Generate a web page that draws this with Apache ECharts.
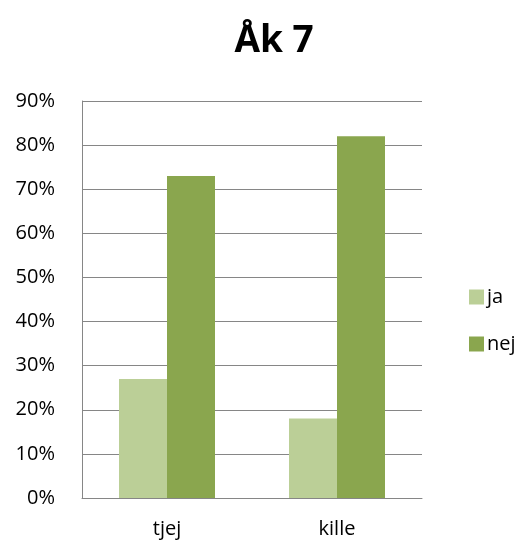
<!DOCTYPE html>
<html>
<head>
<meta charset="utf-8">
<script src="https://cdn.jsdelivr.net/npm/echarts@6/dist/echarts.min.js"></script>
<style>
html,body{margin:0;padding:0;background:#fff;}
#chart{width:522px;height:545px;}
</style>
</head>
<body>
<div id="chart"></div>
<script>
// Survey answers, year 7, split by girls/boys (share of respondents, %)
const categories = ['tjej', 'kille'];
const jaValues = [27, 18];
const nejValues = [73, 82];
const seriesNames = ['ja', 'nej'];
const titleText = 'Åk 7';

const font = '"Open Sans", "Noto Sans", sans-serif';
const chart = echarts.init(document.getElementById('chart'));
chart.setOption({
  animation: false,
  title: {
    text: titleText,
    left: 269, top: 18, textAlign: 'center',
    textStyle: { fontFamily: font, fontSize: 37, fontWeight: 'bold', color: '#000' }
  },
  legend: {
    data: seriesNames,
    orient: 'vertical',
    left: 464, top: 282,
    itemWidth: 15, itemHeight: 15, itemGap: 27,
    icon: 'rect',
    textStyle: { fontFamily: font, fontSize: 20, color: '#000', padding: [0, 0, 0, -2] }
  },
  grid: { left: 82, right: 100, top: 101, bottom: 47, containLabel: false },
  xAxis: {
    type: 'category',
    data: categories,
    axisLine: { lineStyle: { color: '#868686', width: 1 } },
    axisTick: { show: false },
    axisLabel: { fontFamily: font, fontSize: 20, color: '#000', margin: 21 }
  },
  yAxis: {
    type: 'value',
    min: 0, max: 90, interval: 10,
    axisLine: { show: true, lineStyle: { color: '#868686', width: 1 } },
    axisTick: { show: false },
    splitLine: { lineStyle: { color: '#868686', width: 1 } },
    axisLabel: { fontFamily: font, fontSize: 20, color: '#000', margin: 27, formatter: '{value}%' }
  },
  series: [
    { name: 'ja', type: 'bar', data: jaValues, barWidth: 48, barGap: '0%',
      itemStyle: { color: '#BBCF97' } },
    { name: 'nej', type: 'bar', data: nejValues, barWidth: 48, barGap: '0%',
      itemStyle: { color: '#8AA64E' } }
  ]
});
</script>
</body>
</html>
